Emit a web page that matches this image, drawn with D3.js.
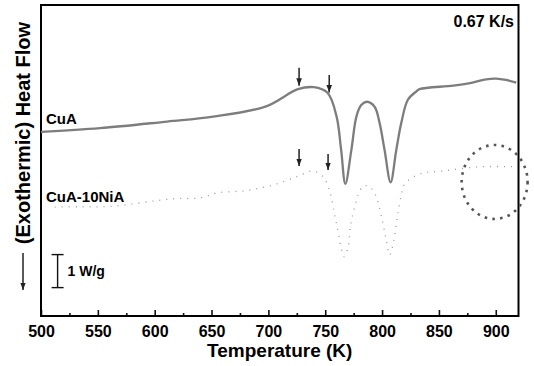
<!DOCTYPE html>
<html>
<head>
<meta charset="utf-8">
<script src="https://cdn.jsdelivr.net/npm/d3@7"></script>
<style>
  body { margin: 0; background: #fff; }
  text { font-family: "Liberation Sans", Arial, sans-serif; font-weight: bold; }
</style>
</head>
<body>
<script>
'use strict';

// CuA trace (temperature K, heat flow W/g, arbitrary offset)
const tempA = [500, 552, 611, 650, 698, 726, 740, 752, 760, 764, 767.7, 773, 777.4, 781.7, 786.7,
  793.4, 797.8, 802.2, 807.5, 812.5, 816.9, 822.7, 830, 833, 862.6, 879.5, 891.6, 900.4, 909, 918];
const heatA = [5.58, 5.69, 5.89, 6.03, 6.35, 6.87, 6.93, 6.76, 6.04, 5.03, 4.00, 5.03, 6.04, 6.39, 6.49,
  6.34, 5.85, 5.03, 4.05, 5.03, 5.85, 6.55, 6.80, 6.87, 6.98, 7.07, 7.17, 7.19, 7.15, 7.07];

// CuA-10NiA trace
const tempB = [512, 534, 561, 616, 640, 655, 681, 704, 725, 739, 748, 754, 758, 761, 764, 766.5,
  770, 772.3, 776, 779, 783, 788, 793.4, 796.3, 800.7, 803.7, 806.6, 810.4, 812.5, 814, 817, 820,
  833, 853, 886, 917];
const heatB = [3.30, 3.31, 3.32, 3.55, 3.58, 3.73, 3.80, 3.97, 4.22, 4.39, 4.22, 3.77, 3.12, 2.61, 2.06, 1.80,
  2.06, 2.76, 3.31, 3.67, 3.92, 3.94, 3.72, 3.46, 2.81, 2.30, 1.85, 2.30, 2.82, 3.13, 3.67, 4.00,
  4.30, 4.39, 4.52, 4.52];

// onset arrows: temperature, tail, tip
const arrowTemps = [727, 753.5, 727, 752.5];
const arrowTails = [7.52, 7.30, 5.06, 4.91];
const arrowTips = [6.85, 6.65, 4.42, 4.30];

const xTicks = [500, 550, 600, 650, 700, 750, 800, 850, 900];

const width = 534, height = 366;
const margin = {left: 41, right: 15.5, top: 5, bottom: 50};

const svg = d3.select("body").append("svg")
    .attr("width", width)
    .attr("height", height);

const x = d3.scaleLinear().domain([500, 920]).range([margin.left, width - margin.right]);
const y = d3.scaleLinear().domain([0, 9.42]).range([height - margin.bottom, margin.top]);

svg.append("defs").append("marker")
    .attr("id", "head")
    .attr("viewBox", "0 0 6 8")
    .attr("refX", 3).attr("refY", 8)
    .attr("markerWidth", 4).attr("markerHeight", 5)
    .attr("orient", "0")
  .append("path")
    .attr("d", "M0,0 L6,0 L3,8 Z")
    .attr("fill", "#222");

// x axis with inward ticks
const xAxis = svg.append("g")
    .attr("transform", `translate(0,${y(0)})`)
    .call(d3.axisBottom(x).tickValues(d3.range(500, 925, 25)).tickSizeInner(-3).tickSizeOuter(0)
      .tickFormat(d => xTicks.includes(d) ? d : ""));
xAxis.select(".domain").remove();
xAxis.selectAll(".tick line")
    .attr("stroke", "#111").attr("stroke-width", 1.6)
    .attr("y2", d => xTicks.includes(d) ? -6 : -3);
xAxis.selectAll(".tick text")
    .attr("y", 10)
    .style("font-size", "16px")
    .attr("fill", "#000");

// frame
svg.append("rect")
    .attr("x", x(500)).attr("y", y(9.42))
    .attr("width", x(920) - x(500)).attr("height", y(0) - y(9.42))
    .attr("fill", "none").attr("stroke", "#000").attr("stroke-width", 2);

const line = d3.line()
    .x((d, i) => x(d[0]))
    .y(d => y(d[1]))
    .curve(d3.curveCatmullRom.alpha(0.5));

svg.append("path")
    .datum(d3.zip(tempB, heatB))
    .attr("d", line)
    .attr("fill", "none")
    .attr("stroke", "#9a9a9a")
    .attr("stroke-width", 1.3)
    .attr("stroke-dasharray", "1,6");

svg.append("path")
    .datum(d3.zip(tempA, heatA))
    .attr("d", line)
    .attr("fill", "none")
    .attr("stroke", "#7d7d7d")
    .attr("stroke-width", 2.3);

// arrows
svg.selectAll("line.arrow")
  .data(arrowTemps)
  .join("line")
    .attr("class", "arrow")
    .attr("x1", d => x(d)).attr("x2", d => x(d))
    .attr("y1", (d, i) => y(arrowTails[i]))
    .attr("y2", (d, i) => y(arrowTips[i]) - 4)
    .attr("stroke", "#222")
    .attr("stroke-width", 1.5)
    .attr("marker-end", "url(#head)");

// dotted circle around the high-temperature region
svg.append("ellipse")
    .attr("cx", x(899)).attr("cy", y(4.06))
    .attr("rx", x(928) - x(899)).attr("ry", y(4.06) - y(5.18))
    .attr("fill", "none")
    .attr("stroke", "#555")
    .attr("stroke-width", 2.6)
    .attr("stroke-dasharray", "2.6,5.2");

// 1 W/g scale bar
const sb = svg.append("g").attr("stroke", "#111").attr("stroke-width", 1.4);
sb.append("line").attr("x1", x(514.6)).attr("x2", x(514.6)).attr("y1", y(0.86)).attr("y2", y(1.86));
[0.86, 1.86].forEach(v => sb.append("line")
    .attr("x1", x(514.6) - 6).attr("x2", x(514.6) + 6).attr("y1", y(v)).attr("y2", y(v)));
svg.append("text")
    .attr("x", x(514.6) + 10).attr("y", y(1.36) + 5)
    .style("font-size", "14px")
    .text("1 W/g");

// labels
svg.append("text").attr("x", 46).attr("y", 124).style("font-size", "15px").text("CuA");
svg.append("text").attr("x", 46).attr("y", 202).style("font-size", "15px").text("CuA-10NiA");
svg.append("text").attr("x", 514).attr("y", 27).attr("text-anchor", "end")
    .style("font-size", "16px").text("0.67 K/s");

svg.append("text")
    .attr("x", (x(500) + x(920)) / 2).attr("y", 357)
    .attr("text-anchor", "middle")
    .style("font-size", "19px")
    .text("Temperature (K)");

svg.append("text")
    .attr("transform", "translate(30,133) rotate(-90)")
    .attr("text-anchor", "middle")
    .style("font-size", "20px")
    .text("(Exothermic) Heat Flow");

svg.append("line")
    .attr("x1", 23).attr("x2", 23).attr("y1", 253).attr("y2", 290)
    .attr("stroke", "#222").attr("stroke-width", 1.5)
    .attr("marker-end", "url(#head)");
</script>
</body>
</html>
